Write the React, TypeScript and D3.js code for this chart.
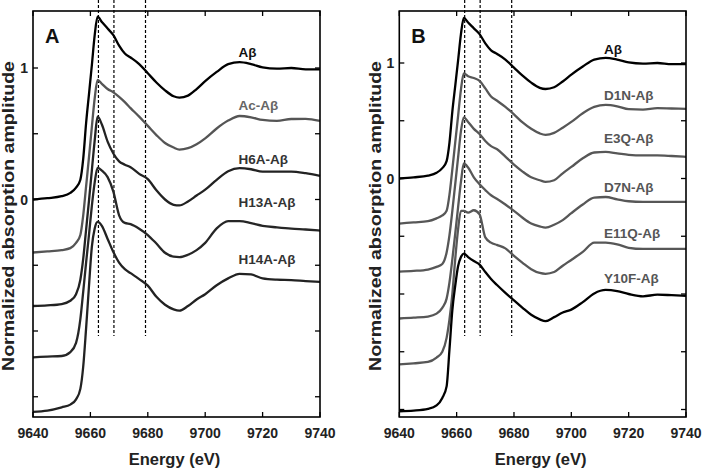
import React from "react";
import * as d3 from "d3";

const energy = [9640, 9645, 9650, 9653, 9655, 9656.5, 9657.5, 9658.5, 9659.5, 9660.5, 9661.5, 9662.5, 9664, 9666, 9668, 9670, 9672, 9674, 9677, 9680, 9683, 9686, 9689, 9691, 9694, 9697, 9700, 9704, 9708, 9712, 9716, 9720, 9725, 9730, 9735, 9740];

const abeta = [0, 0.01, 0.025, 0.05, 0.09, 0.15, 0.31, 0.58, 0.8, 1.02, 1.25, 1.39, 1.35, 1.3, 1.25, 1.17, 1.11, 1.08, 1.03, 0.96, 0.89, 0.83, 0.785, 0.775, 0.79, 0.84, 0.9, 0.97, 1.03, 1.045, 1.03, 1.005, 0.995, 1.0, 0.99, 0.99];
const acAbeta = [-0.003, 0.005, 0.015, 0.03, 0.07, 0.13, 0.28, 0.5, 0.72, 0.95, 1.17, 1.31, 1.28, 1.24, 1.215, 1.18, 1.14, 1.095, 1.03, 0.96, 0.89, 0.83, 0.795, 0.78, 0.79, 0.82, 0.865, 0.94, 1.0, 1.035, 1.025, 1.005, 0.998, 1.012, 1.013, 0.997];
const h6a = [-0.01, -0.005, 0.005, 0.03, 0.08, 0.19, 0.35, 0.57, 0.79, 1.02, 1.25, 1.43, 1.37, 1.24, 1.15, 1.09, 1.065, 1.045, 0.995, 0.955, 0.87, 0.8, 0.76, 0.755, 0.785, 0.83, 0.875, 0.95, 1.015, 1.038, 1.03, 1.012, 1.012, 1.012, 1.0, 0.98];
const h13a = [0, 0.005, 0.01, 0.04, 0.11, 0.29, 0.5, 0.72, 0.93, 1.15, 1.33, 1.44, 1.42, 1.37, 1.26, 1.08, 1.022, 1.013, 0.978, 0.93, 0.865, 0.795, 0.765, 0.762, 0.78, 0.815, 0.87, 0.98, 1.035, 1.035, 1.02, 1.0, 0.988, 0.978, 0.972, 0.964];
const h14a = [-0.015, -0.005, 0.02, 0.04, 0.08, 0.16, 0.33, 0.62, 0.94, 1.24, 1.38, 1.43, 1.4, 1.3, 1.2, 1.12, 1.07, 1.04, 0.995, 0.945, 0.86, 0.8, 0.765, 0.755, 0.79, 0.84, 0.88, 0.948, 1.0, 1.035, 1.03, 1.0, 0.99, 0.987, 0.98, 0.974];

const d1n = [0.01, 0.02, 0.03, 0.055, 0.08, 0.12, 0.26, 0.48, 0.71, 0.94, 1.17, 1.31, 1.285, 1.27, 1.245, 1.18, 1.11, 1.075, 1.02, 0.955, 0.885, 0.83, 0.79, 0.778, 0.795, 0.84, 0.89, 0.965, 1.02, 1.037, 1.025, 1.0, 0.996, 1.009, 1.006, 1.003];
const e3q = [-0.006, 0.0, 0.012, 0.035, 0.06, 0.16, 0.31, 0.52, 0.75, 0.98, 1.21, 1.33, 1.29, 1.23, 1.185, 1.125, 1.08, 1.055, 0.99, 0.92, 0.86, 0.81, 0.785, 0.77, 0.785, 0.845, 0.9, 0.975, 1.025, 1.03, 1.018, 1.005, 1.0, 1.0, 0.995, 0.988];
const d7n = [-0.012, -0.005, 0.005, 0.03, 0.08, 0.16, 0.3, 0.5, 0.72, 0.95, 1.17, 1.33, 1.295, 1.21, 1.15, 1.1, 1.055, 1.025, 0.975, 0.92, 0.86, 0.81, 0.785, 0.775, 0.8, 0.84, 0.9, 0.975, 1.035, 1.04, 1.02, 1.003, 0.997, 0.997, 0.997, 0.997];
const e11q = [-0.01, 0.0, 0.012, 0.05, 0.1, 0.22, 0.38, 0.6, 0.9, 1.16, 1.32, 1.32, 1.305, 1.325, 1.29, 1.09, 1.045, 1.025, 0.995, 0.93, 0.87, 0.815, 0.782, 0.775, 0.79, 0.845, 0.895, 0.965, 1.045, 1.045, 1.03, 1.0, 0.99, 0.99, 0.99, 0.99];
const y10f = [-0.015, -0.01, 0.005, 0.035, 0.1, 0.2, 0.52, 0.86, 1.07, 1.24, 1.32, 1.35, 1.32, 1.285, 1.255, 1.19, 1.13, 1.08, 1.01, 0.945, 0.88, 0.82, 0.78, 0.765, 0.8, 0.84, 0.865, 0.93, 1.005, 1.035, 1.025, 1.0, 0.98, 0.994, 0.99, 0.985];

const labelsA = ["Aβ", "Ac-Aβ", "H6A-Aβ", "H13A-Aβ", "H14A-Aβ"];
const offsetsA = [0, -0.4, -0.8, -1.2, -1.6];
const labelsB = ["Aβ", "D1N-Aβ", "E3Q-Aβ", "D7N-Aβ", "E11Q-Aβ", "Y10F-Aβ"];
const offsetsB = [0, -0.4, -0.8, -1.2, -1.6, -2.0];

const xTicks = [9640, 9660, 9680, 9700, 9720, 9740];
const yTicksA = [-1.5, -1, -0.5, 0, 0.5, 1];
const yTicksB = [-2, -1.5, -1, -0.5, 0, 0.5, 1];
const yTickLabels = [0, 1];
const featureLines = [9662.8, 9668.2, 9679.2];

const FONT = "'Liberation Sans', Arial, Helvetica, sans-serif";

type PanelProps = {
  letter: string;
  left: number;
  right: number;
  zeroY: number;
  unit: number;
  series: number[][];
  offsets: number[];
  labels: string[];
  lineColors: string[];
  labelColors: string[];
  labelX: number;
  labelYs: number[];
  yTicks: number[];
  yTitleX: number;
};

function Panel(p: PanelProps) {
  const top = 11;
  const bottom = 417;
  const x = d3.scaleLinear().domain([9640, 9740]).range([p.left, p.right]);
  const y = d3
    .scaleLinear()
    .domain([(p.zeroY - bottom) / p.unit, (p.zeroY - top) / p.unit])
    .range([bottom, top]);
  const line = d3
    .line<[number, number]>()
    .x((d) => x(d[0]))
    .y((d) => y(d[1]))
    .curve(d3.curveMonotoneX);
  const tl = 5;
  const midX = (p.left + p.right) / 2 - 2;
  return (
    <g>
      {featureLines.map((e, i) => (
        <line key={"f" + i} x1={x(e)} x2={x(e)} y1={0} y2={336} stroke="#000" strokeWidth={1.2} strokeDasharray="3,2" />
      ))}
      {p.series.map((s, i) => (
        <path
          key={"s" + i}
          d={line(energy.map((e, j) => [e, s[j] + p.offsets[i]] as [number, number])) || ""}
          fill="none"
          stroke={p.lineColors[i]}
          strokeWidth={2.3}
          strokeLinejoin="round"
        />
      ))}
      <rect x={p.left} y={top} width={p.right - p.left} height={bottom - top} fill="none" stroke="#000" strokeWidth={1.6} />
      {xTicks.map((t) => (
        <g key={"xt" + t}>
          <line x1={x(t)} x2={x(t)} y1={bottom} y2={bottom - tl} stroke="#000" strokeWidth={1.3} />
          <line x1={x(t)} x2={x(t)} y1={top} y2={top + tl} stroke="#000" strokeWidth={1.3} />
          <text x={x(t)} y={438} textAnchor="middle" fontFamily={FONT} fontWeight="bold" fontSize={14} fill="#222">
            {t}
          </text>
        </g>
      ))}
      {p.yTicks.map((t) => (
        <g key={"yt" + t}>
          <line x1={p.left} x2={p.left + tl} y1={y(t)} y2={y(t)} stroke="#000" strokeWidth={1.3} />
          <line x1={p.right} x2={p.right - tl} y1={y(t)} y2={y(t)} stroke="#000" strokeWidth={1.3} />
        </g>
      ))}
      {yTickLabels.map((t) => (
        <text key={"yl" + t} x={p.left - 5} y={y(t) + 5} textAnchor="end" fontFamily={FONT} fontWeight="bold" fontSize={14} fill="#222">
          {t}
        </text>
      ))}
      {p.labels.map((l, i) => (
        <text key={"l" + i} x={p.labelX} y={p.labelYs[i]} fontFamily={FONT} fontWeight="bold" fontSize={13.5} fill={p.labelColors[i]}>
          {l}
        </text>
      ))}
      <text x={p.left + 12} y={42.5} fontFamily={FONT} fontWeight="bold" fontSize={20} fill="#111">
        {p.letter}
      </text>
      <text x={midX} y={464.5} textAnchor="middle" fontFamily={FONT} fontWeight="bold" fontSize={16.5} fill="#222">
        Energy (eV)
      </text>
      <text
        transform={`translate(${p.yTitleX},216) rotate(-90)`}
        textAnchor="middle"
        fontFamily={FONT}
        fontWeight="bold"
        fontSize={17}
        textLength={310}
        lengthAdjust="spacingAndGlyphs"
        fill="#222"
      >
        Normalized absorption amplitude
      </text>
    </g>
  );
}

export default function App() {
  return (
    <svg width={702} height={468} style={{ position: "absolute", left: 0, top: 0, background: "#fff" }}>
      <rect width={702} height={468} fill="#fff" />
      <Panel
        letter="A"
        left={33}
        right={320}
        zeroY={199.5}
        unit={131.5}
        series={[abeta, acAbeta, h6a, h13a, h14a]}
        offsets={offsetsA}
        labels={labelsA}
        lineColors={["#000", "#555", "#222", "#262626", "#222"]}
        labelColors={["#111", "#666", "#333", "#333", "#333"]}
        labelX={238.5}
        labelYs={[56.5, 109.5, 164, 206.5, 263.5]}
        yTicks={yTicksA}
        yTitleX={14}
      />
      <Panel
        letter="B"
        left={399.3}
        right={686}
        zeroY={178.5}
        unit={115.5}
        series={[abeta, d1n, e3q, d7n, e11q, y10f]}
        offsets={offsetsB}
        labels={labelsB}
        lineColors={["#000", "#575757", "#575757", "#575757", "#575757", "#000"]}
        labelColors={["#111", "#555", "#555", "#555", "#555", "#555"]}
        labelX={604}
        labelYs={[53.5, 100, 143.3, 191.5, 238.3, 283.3]}
        yTicks={yTicksB}
        yTitleX={381}
      />
    </svg>
  );
}
